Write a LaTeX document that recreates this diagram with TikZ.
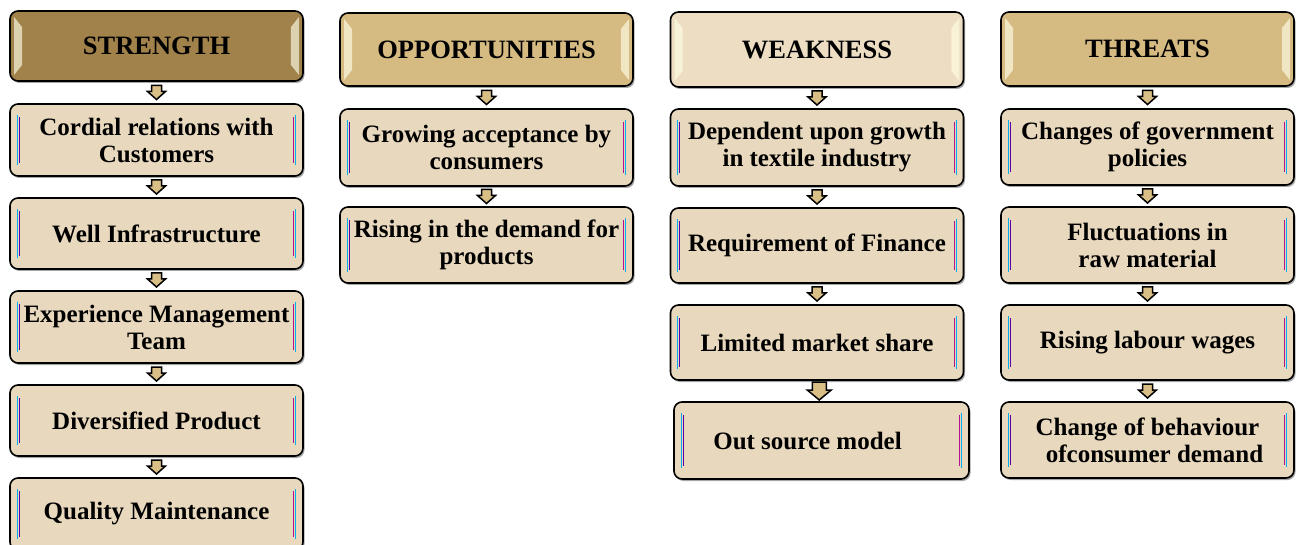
\documentclass[tikz,border=0pt]{standalone}
\usepackage{fontspec}
\setmainfont{Liberation Serif}
\usetikzlibrary{calc,shadows}
\definecolor{hdrS}{HTML}{A0824A}
\definecolor{hdrO}{HTML}{D5BA82}
\definecolor{hdrW}{HTML}{ECDDC3}
\definecolor{boxc}{HTML}{E8D8BD}
\definecolor{arrc}{HTML}{D9BF86}
\tikzset{
  box/.style={draw=black, line width=1.6pt, rounded corners=8pt, fill=boxc,
    minimum width=293pt, inner sep=0pt, align=center,
    font=\fontsize{25}{27}\selectfont\bfseries,
    drop shadow={shadow xshift=1.5pt, shadow yshift=-2pt, opacity=0.35, fill=black}},
  hdr/.style={box, font=\fontsize{26.5}{28}\selectfont\bfseries},
  arr/.style={draw=black, line width=1.5pt, fill=arrc, line join=miter},
  hl/.style={fill=yellow!10!white, opacity=0.65},
}
\newcommand{\barrow}[2]{%
  \path ($(#1.south)!0.5!(#2.north)$) coordinate (m);
  \draw[arr, shift={(m)}] (-5,-7) -- (5,-7) -- (5,-1) -- (9,-1) -- (0,7) -- (-9,-1) -- (-5,-1) -- cycle;}
\newcommand{\bigarrow}[2]{%
  \path ($(#1.south)!0.5!(#2.north)$) coordinate (m);
  \draw[arr, shift={(m)}] (-7,-9) -- (7,-9) -- (7,-1) -- (12,-1) -- (0,9) -- (-12,-1) -- (-7,-1) -- cycle;}
\newcommand{\bev}[1]{%
  \draw[cyan, line width=1.3pt] ([shift={(8,12)}]#1.north west) -- ([shift={(8,-12)}]#1.south west);
  \draw[violet!70!blue, line width=0.8pt] ([shift={(10,14)}]#1.north west) -- ([shift={(10,-14)}]#1.south west);
  \draw[cyan, line width=1.3pt] ([shift={(-8,12)}]#1.north east) -- ([shift={(-8,-12)}]#1.south east);
  \draw[magenta!70!blue, line width=0.8pt] ([shift={(-10,14)}]#1.north east) -- ([shift={(-10,-14)}]#1.south east);}
\newcommand{\hbev}[1]{%
  \fill[hl] ([shift={(5,7)}]#1.north west) -- ([shift={(13,17)}]#1.north west) -- ([shift={(13,-17)}]#1.south west) -- ([shift={(5,-7)}]#1.south west) -- cycle;
  \fill[hl] ([shift={(-5,7)}]#1.north east) -- ([shift={(-13,17)}]#1.north east) -- ([shift={(-13,-17)}]#1.south east) -- ([shift={(-5,-7)}]#1.south east) -- cycle;}
\begin{document}
\begin{tikzpicture}[x=1pt,y=-1pt]
\useasboundingbox (0,0) rectangle (1298,545);
\clip (0,0) rectangle (1298,545);
% STRENGTH
\node[hdr, fill=hdrS, minimum height=70pt] (s0) at (156.5,46) {STRENGTH};
\node[box, minimum height=72pt] (s1) at (156.5,140) {Cordial relations with\\Customers};
\node[box, minimum height=71pt] (s2) at (156.5,233.5) {Well Infrastructure};
\node[box, minimum height=72pt] (s3) at (156.5,327) {Experience Management\\Team};
\node[box, minimum height=71pt] (s4) at (156.5,420.5) {Diversified Product};
\node[box, minimum height=72pt] (s5) at (156.5,514) {Quality Maintenance};
% OPPORTUNITIES
\node[hdr, fill=hdrO, minimum height=73pt] (o0) at (486.5,49.5) {OPPORTUNITIES};
\node[box, minimum height=77pt] (o1) at (486.5,147.5) {Growing acceptance by\\consumers};
\node[box, minimum height=76pt] (o2) at (486.5,245) {Rising in the demand for\\products};
% WEAKNESS
\node[hdr, fill=hdrW, minimum height=75pt] (w0) at (817,49.5) {WEAKNESS};
\node[box, minimum height=77pt] (w1) at (817,147.5) {Dependent upon growth\\in textile industry};
\node[box, minimum height=75pt] (w2) at (817,245.5) {Requirement of Finance};
\node[box, minimum height=75pt] (w3) at (817,342.5) {Limited market share};
\node[box, minimum height=77pt, minimum width=295pt] (w4) at (821.5,440.5) {Out source model\hspace*{28pt}};
% THREATS
\node[hdr, fill=hdrO, minimum height=74pt] (t0) at (1147.5,49) {THREATS};
\node[box, minimum height=76pt] (t1) at (1147.5,147) {Changes of government\\policies};
\node[box, minimum height=76pt] (t2) at (1147.5,245) {Fluctuations in\\raw material};
\node[box, minimum height=75pt] (t3) at (1147.5,342.5) {Rising labour wages};
\node[box, minimum height=76pt] (t4) at (1147.5,440) {Change of behaviour\\\hspace*{14pt}ofconsumer demand};
% bevels
\foreach \n in {s0,o0,w0,t0} {\hbev{\n}}
\foreach \n in {s1,s2,s3,s4,s5,o1,o2,w1,w2,w3,w4,t1,t2,t3,t4} {\bev{\n}}
% arrows
\foreach \a/\b in {s0/s1,s1/s2,s2/s3,s3/s4,s4/s5,o0/o1,o1/o2,w0/w1,w1/w2,w2/w3,t0/t1,t1/t2,t2/t3,t3/t4} {\barrow{\a}{\b}}
\bigarrow{w3}{w4}
\end{tikzpicture}
\end{document}
